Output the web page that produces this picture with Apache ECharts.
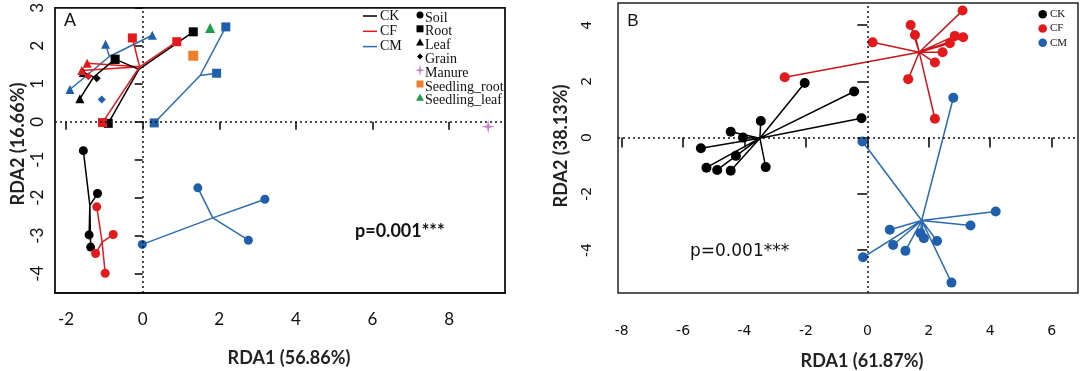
<!DOCTYPE html>
<html><head><meta charset="utf-8">
<script src="https://cdn.jsdelivr.net/npm/echarts@6/dist/echarts.min.js"></script>
<style>html,body{margin:0;padding:0;background:#fff}#c{width:1080px;height:371px}</style>
</head><body><div id="c"></div>
<script>
// ---------- tick labels ----------
const A_ticksX = [-2, 0, 2, 4, 6, 8];
const A_ticksY = [-4, -3, -2, -1, 0, 1, 2, 3];
const B_ticksX = [-8, -6, -4, -2, 0, 2, 4, 6];
const B_ticksY = [-4, -2, 0, 2, 4];

// ---------- Panel A data (RDA1, RDA2) ----------
const A_CK_soil = [[-1.55,-0.76],[-1.18,-1.89],[-1.40,-2.98],[-1.36,-3.30]];
const A_CK_soil_c = [-1.38,-2.20];
const A_CF_soil = [[-1.20,-2.24],[-0.77,-2.97],[-1.23,-3.47],[-0.98,-3.99]];
const A_CF_soil_c = [-1.06,-3.17];
const A_CM_soil = [[1.44,-1.74],[-0.01,-3.23],[3.19,-2.04],[2.76,-3.12]];
const A_CM_soil_c = [1.83,-2.53];

const A_CK_root = [[1.32,2.37],[-0.72,1.65],[-0.90,-0.04]];
const A_CK_root_c = [-0.10,1.38];
const A_CF_root = [[0.89,2.11],[-0.27,2.21],[-1.05,-0.02]];
const A_CF_root_c = [-0.08,1.45];
const A_CM_root = [[2.17,2.50],[1.93,1.28],[0.30,-0.03]];
const A_CM_root_c = [1.50,1.22];

const A_CK_leaf = [[-1.64,0.61],[-1.55,1.30],[-0.72,1.65]];
const A_CK_leaf_c = [-1.28,1.18];
const A_CF_leaf = [[-1.45,1.54],[-1.59,1.35]];
const A_CF_leaf_c = [-0.08,1.45];
const A_CM_leaf = [[0.25,2.28],[-0.97,2.04],[-1.90,0.85]];
const A_CM_leaf_c = [-0.87,1.72];

const A_CK_grain = [[-1.20,1.15]];
const A_CF_grain = [[-1.42,1.20]];
const A_CF_grain_c = [-1.57,1.33];
const A_CM_grain = [[-1.07,0.59]];

const A_manure = [[9.02,-0.13]];
const A_seedRoot = [[1.32,1.74]];
const A_seedLeaf = [[1.76,2.47]];

// ---------- Panel B data ----------
const B_CK = [[-2.04,1.94],[-3.47,0.59],[-4.45,0.21],[-4.05,0.00],[-5.42,-0.38],[-4.28,-0.65],
              [-5.24,-1.07],[-4.89,-1.15],[-4.45,-1.18],[-3.31,-1.05],[-0.43,1.64],[-0.19,0.69]];
const B_CK_c = [-3.50,-0.02];
const B_CF = [[3.10,4.52],[1.41,4.01],[1.55,3.65],[0.17,3.39],[2.85,3.62],[3.12,3.57],
              [2.69,3.36],[2.45,3.04],[2.20,2.67],[1.33,2.08],[2.20,0.67],[-2.69,2.15]];
const B_CF_c = [1.69,3.04];
const B_CM = [[-0.16,-0.14],[2.80,1.42],[4.18,-2.63],[3.36,-3.13],[0.73,-3.28],[1.73,-3.40],
              [1.84,-3.58],[2.27,-3.68],[0.84,-3.82],[1.24,-4.03],[-0.14,-4.26],[2.74,-5.16]];
const B_CM_c = [1.77,-2.95];

// ---------- styles ----------
const BLACK = '#000000', RED = '#e3191c', BLUE = '#1f5fab', BLUE_L = '#2a6cb0';
const ORANGE = '#ef7f2a', GREEN = '#1f9e48', PURPLE = '#c47fc8';
const MANURE_SYM = 'path://M0,-10L1.6,-1.6L10,0L1.6,1.6L0,10L-1.6,1.6L-10,0L-1.6,-1.6Z';

function spiderPath(points, center) {
  const d = [];
  if (points.length === 1) { d.push(center); d.push(points[0]); return d; }
  points.forEach((p, i) => { if (i > 0) d.push(center); d.push(p); });
  return d;
}
const series = [];
function addSpider(panel, points, center, color) {
  series.push({ type: 'line', xAxisIndex: panel, yAxisIndex: panel, data: spiderPath(points, center),
    symbol: 'none', lineStyle: { color: color, width: 1.5 }, z: 2, silent: true, animation: false });
}
function addPts(panel, points, symbol, size, color) {
  series.push({ type: 'scatter', xAxisIndex: panel, yAxisIndex: panel, data: points,
    symbol: symbol, symbolSize: size, itemStyle: { color: color, opacity: 1 }, z: 4, silent: true, animation: false });
}
// zero lines
[0, 1].forEach(p => {
  series.push({ type: 'scatter', xAxisIndex: p, yAxisIndex: p, data: [], z: 1,
    markLine: { symbol: 'none', silent: true, animation: false, label: { show: false },
      lineStyle: { type: [2, 3], color: '#111', width: 1.5 },
      data: [{ xAxis: 0 }, { yAxis: 0 }] } });
});

// Panel A spiders
addSpider(0, A_CK_soil, A_CK_soil_c, BLACK);
addSpider(0, A_CF_soil, A_CF_soil_c, RED);
addSpider(0, A_CM_soil, A_CM_soil_c, BLUE_L);
addSpider(0, A_CM_root, A_CM_root_c, BLUE_L);
addSpider(0, A_CM_leaf, A_CM_leaf_c, BLUE_L);
addSpider(0, A_CF_leaf, A_CF_leaf_c, RED);
addSpider(0, A_CF_grain, A_CF_grain_c, RED);
addSpider(0, A_CK_leaf, A_CK_leaf_c, BLACK);
addSpider(0, A_CK_root, A_CK_root_c, BLACK);
addSpider(0, A_CF_root, A_CF_root_c, RED);

// Panel A points
addPts(0, A_CK_soil, 'circle', 9, BLACK);
addPts(0, A_CF_soil, 'circle', 9, RED);
addPts(0, A_CM_soil, 'circle', 9, BLUE);
addPts(0, A_CK_leaf, 'triangle', 9, BLACK);
addPts(0, A_CF_leaf, 'triangle', 9, RED);
addPts(0, A_CM_leaf, 'triangle', 9, BLUE);
addPts(0, A_CK_root, 'rect', 9, BLACK);
addPts(0, A_CF_root, 'rect', 9, RED);
addPts(0, A_CM_root, 'rect', 9, BLUE);
addPts(0, A_CK_grain, 'diamond', 8, BLACK);
addPts(0, A_CF_grain, 'diamond', 8, RED);
addPts(0, A_CM_grain, 'diamond', 8, BLUE);
addPts(0, A_manure, MANURE_SYM, 14, PURPLE);
addPts(0, A_seedRoot, 'rect', 10, ORANGE);
addPts(0, A_seedLeaf, 'triangle', 10, GREEN);

// Panel B
addSpider(1, B_CK, B_CK_c, BLACK);
addSpider(1, B_CF, B_CF_c, '#c8161b');
addSpider(1, B_CM, B_CM_c, BLUE_L);
addPts(1, B_CK, 'circle', 10, BLACK);
addPts(1, B_CF, 'circle', 10, RED);
addPts(1, B_CM, 'circle', 10, BLUE);

function xAx(idx, min, max, ticks, font, fs, tickLen, margin) {
  return { type: 'value', gridIndex: idx, min: min, max: max,
    axisLine: { show: false }, splitLine: { show: false },
    axisTick: { show: true, inside: false, length: tickLen, customValues: ticks, lineStyle: { color: '#000', width: 1.5 } },
    axisLabel: { customValues: ticks, fontFamily: font, fontSize: fs, color: '#111', margin: margin } };
}
function yAx(idx, min, max, ticks, font, fs, tickLen, margin) {
  return { type: 'value', gridIndex: idx, min: min, max: max,
    axisLine: { show: false }, splitLine: { show: false },
    axisTick: { show: true, inside: false, length: tickLen, customValues: ticks, lineStyle: { color: '#000', width: 1.5 } },
    axisLabel: { customValues: ticks, fontFamily: font, fontSize: fs, color: '#111', margin: margin, rotate: 90 } };
}

const legendA = [];
[['CK', BLACK], ['CF', RED], ['CM', BLUE_L]].forEach((e, i) => {
  const y = 16 + i * 15.3;
  legendA.push({ type: 'line', shape: { x1: 363, y1: y, x2: 377, y2: y }, style: { stroke: e[1], lineWidth: 1.5 } });
  legendA.push({ type: 'text', x: 380, y: y, style: { text: e[0], font: '14px "Liberation Serif"', fill: '#111', textVerticalAlign: 'middle' } });
});
const symItems = [['Soil', 'circle', BLACK], ['Root', 'rect', BLACK], ['Leaf', 'tri', BLACK], ['Grain', 'dia', BLACK],
  ['Manure', 'star', PURPLE], ['Seedling_root', 'rect', ORANGE], ['Seedling_leaf', 'tri', GREEN]];
symItems.forEach((e, i) => {
  const y = 18 + i * 13.8, x = 420;
  let shp;
  if (e[1] === 'circle') shp = { type: 'circle', shape: { cx: x, cy: y - 3, r: 3.5 }, style: { fill: e[2] } };
  else if (e[1] === 'rect') shp = { type: 'rect', shape: { x: x - 3.5, y: y - 6.5, width: 7, height: 7 }, style: { fill: e[2] } };
  else if (e[1] === 'tri') shp = { type: 'polygon', shape: { points: [[x, y - 7], [x + 4, y], [x - 4, y]] }, style: { fill: e[2] } };
  else if (e[1] === 'dia') shp = { type: 'polygon', shape: { points: [[x, y - 6], [x + 3, y - 3], [x, y], [x - 3, y - 3]] }, style: { fill: e[2] } };
  else shp = { type: 'polygon', shape: { points: [[x, y - 9], [x + 0.9, y - 4], [x + 5, y - 3], [x + 0.9, y - 2], [x, y + 3], [x - 0.9, y - 2], [x - 5, y - 3], [x - 0.9, y - 4]] }, style: { fill: e[2] } };
  legendA.push(shp);
  legendA.push({ type: 'text', x: 425, y: y, style: { text: e[0], font: '14px "Liberation Serif"', fill: '#111', textVerticalAlign: 'middle' } });
});
const legendB = [];
[['CK', BLACK], ['CF', RED], ['CM', BLUE]].forEach((e, i) => {
  const y = 14.3 + i * 14.2;
  legendB.push({ type: 'circle', shape: { cx: 1042.7, cy: y, r: 4.3 }, style: { fill: e[1] } });
  legendB.push({ type: 'text', x: 1050, y: y, style: { text: e[0], font: '11px "Liberation Serif"', fill: '#111', textVerticalAlign: 'middle' } });
});

const option = {
  animation: false,
  backgroundColor: '#fff',
  grid: [
    { left: 55, top: 5, width: 450, height: 288, show: true, borderColor: '#111', borderWidth: 1.8, backgroundColor: 'transparent' },
    { left: 618, top: 3, width: 460, height: 290, show: true, borderColor: '#222', borderWidth: 1.5, backgroundColor: 'transparent' }
  ],
  xAxis: [
    xAx(0, -2.29, 9.46, A_ticksX, 'Lato', 17, 8, 18),
    xAx(1, -8.12, 6.86, B_ticksX, 'DejaVu Sans', 14, 10, 31)
  ],
  yAxis: [
    yAx(0, -4.51, 3.0, A_ticksY, 'Lato', 17, 8, 9),
    yAx(1, -5.53, 4.79, B_ticksY, 'DejaVu Sans', 14, 10, 24)
  ],
  series: series,
  graphic: [
    { type: 'text', x: 70, y: 21, style: { text: 'A', font: '18px "Liberation Sans"', fill: '#111', textAlign: 'center', textVerticalAlign: 'middle' } },
    { type: 'text', x: 633, y: 21, style: { text: 'B', font: '17px "Liberation Sans"', fill: '#111', textAlign: 'center', textVerticalAlign: 'middle' } },
    { type: 'text', x: 289, y: 358, style: { text: 'RDA1 (56.86%)', font: 'bold 18px Lato', fill: '#222', textAlign: 'center', textVerticalAlign: 'middle' } },
    { type: 'text', x: 862, y: 361, style: { text: 'RDA1 (61.87%)', font: 'bold 18px Lato', fill: '#222', textAlign: 'center', textVerticalAlign: 'middle' } },
    { type: 'text', x: 18, y: 144, rotation: Math.PI / 2, style: { text: 'RDA2 (16.66%)', font: 'bold 18px Lato', fill: '#222', textAlign: 'center', textVerticalAlign: 'middle' } },
    { type: 'text', x: 561, y: 146, rotation: Math.PI / 2, style: { text: 'RDA2 (38.13%)', font: 'bold 18px Lato', fill: '#222', textAlign: 'center', textVerticalAlign: 'middle' } },
    { type: 'text', x: 355, y: 231, style: { text: 'p=0.001***', font: 'bold 18px Lato', fill: '#111', textVerticalAlign: 'middle' } },
    { type: 'text', x: 690, y: 252, style: { text: 'p=0.001***', font: '17px "DejaVu Sans"', fill: '#111', textVerticalAlign: 'middle' } },
    ...legendA,
    ...legendB
  ]
};
echarts.init(document.getElementById('c'), null, { renderer: 'canvas' }).setOption(option);
</script></body></html>
